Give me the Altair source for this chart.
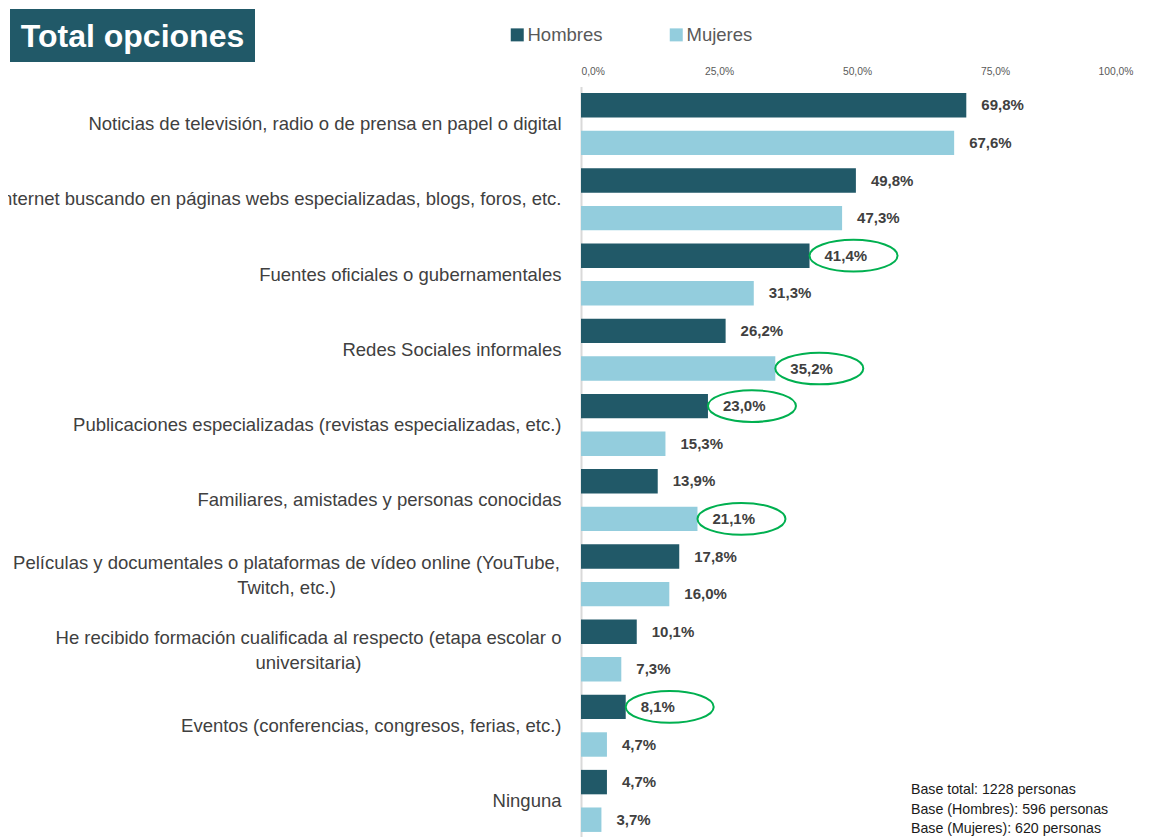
import altair as alt
import pandas as pd

categories = [
    "Noticias de televisión, radio o de prensa en papel o digital",
    "Internet buscando en páginas webs especializadas, blogs, foros, etc.",
    "Fuentes oficiales o gubernamentales",
    "Redes Sociales informales",
    "Publicaciones especializadas (revistas especializadas, etc.)",
    "Familiares, amistades y personas conocidas",
    "Películas y documentales o plataformas de vídeo online (YouTube,|Twitch, etc.)",
    "He recibido formación cualificada al respecto (etapa escolar o|universitaria)",
    "Eventos (conferencias, congresos, ferias, etc.)",
    "Ninguna",
]
series = ["Hombres", "Mujeres"]
hombres = [69.8, 49.8, 41.4, 26.2, 23.0, 13.9, 17.8, 10.1, 8.1, 4.7]
mujeres = [67.6, 47.3, 31.3, 35.2, 15.3, 21.1, 16.0, 7.3, 4.7, 3.7]
# highlighted (circled) values: (category index, series)
highlighted = [(2, "Hombres"), (3, "Mujeres"), (4, "Hombres"), (5, "Mujeres"), (8, "Hombres")]
x_ticks = [0, 25, 50, 75, 100]
title_text = "Total opciones"
footnote_lines = [
    "Base total: 1228 personas",
    "Base (Hombres): 596 personas",
    "Base (Mujeres): 620 personas",
]

rows = []
for i, c in enumerate(categories):
    for s, vals in zip(series, [hombres, mujeres]):
        rows.append({"cat": c, "sexo": s, "valor": vals[i], "hl": (i, s) in highlighted})
df = pd.DataFrame(rows)

FN = "Liberation Sans, Arial, sans-serif"
C_H = "#215968"
C_M = "#93cddd"

y_enc = alt.Y(
    "cat:N",
    sort=categories,
    scale=alt.Scale(paddingInner=0, paddingOuter=0),
    axis=alt.Axis(
        title=None,
        labelExpr="split(datum.label, '|')",
        labelFont=FN,
        labelFontSize=18.5,
        labelColor="#404040",
        labelLimit=1000,
        labelLineHeight=25.5,
        labelBaseline="middle",
        labelAlign={"condition": {"test": "indexof(datum.value, '|') >= 0", "value": "center"}, "value": "right"},
        labelOffset={"condition": {"test": "indexof(datum.value, '|') >= 0", "value": -12.75}, "value": 0},
        labelPadding={"condition": [
            {"test": "indexof(datum.value, 'Películas') >= 0", "value": 295},
            {"test": "indexof(datum.value, 'He recibido') >= 0", "value": 273},
        ], "value": 20},
        ticks=False,
        tickSize=0,
        domainColor="#d9d9d9",
        domainWidth=2,
        grid=False,
    ),
)
yoff_enc = alt.YOffset("sexo:N", sort=series, scale=alt.Scale(paddingInner=0.35, paddingOuter=0.175))
x_enc = alt.X(
    "valor:Q",
    scale=alt.Scale(domain=[0, 100], nice=False),
    axis=alt.Axis(
        title=None,
        orient="top",
        values=x_ticks,
        labelExpr="replace(format(datum.value, '.1f'), '.', ',') + '%'",
        labelFont=FN,
        labelFontSize=10.3,
        labelColor="#595959",
        labelPadding=10,
        ticks=False,
        domain=False,
        grid=False,
    ),
)

base = alt.Chart(df).encode(x=x_enc, y=y_enc, yOffset=yoff_enc)

bars = base.mark_bar().encode(
    color=alt.Color(
        "sexo:N",
        scale=alt.Scale(domain=series, range=[C_H, C_M]),
        legend=alt.Legend(
            title=None,
            orient="none",
            legendX=-73,
            legendY=-61,
            direction="horizontal",
            symbolType="square",
            symbolSize=169,
            symbolStrokeWidth=0,
            labelFont=FN,
            labelFontSize=18.5,
            labelColor="#595959",
            labelOffset=1,
            columnPadding=64,
        ),
    )
)

labels = base.mark_text(
    align="left", baseline="middle", dx=15, font=FN, fontSize=15, fontWeight="bold", color="#404040"
).transform_calculate(
    lbl="replace(format(datum.valor, '.1f'), '.', ',') + '%'"
).encode(text="lbl:N")

ellipse_path = "M -1 0 A 1 0.36 0 1 0 1 0 A 1 0.36 0 1 0 -1 0 Z"
circles = base.mark_point(
    shape=ellipse_path, size=7744, filled=False, stroke="#00b050", strokeWidth=2, opacity=1, xOffset=44
).transform_filter("datum.hl")

deco = pd.DataFrame({"t": [title_text]})
title_box = alt.Chart(deco).mark_rect(color=C_H).encode(
    x=alt.value(-571), x2=alt.value(-326), y=alt.value(-77.5), y2=alt.value(-24.5)
)
title_txt = alt.Chart(deco).mark_text(
    font=FN, fontSize=32, fontWeight="bold", color="white", align="center", baseline="middle"
).encode(x=alt.value(-448.5), y=alt.value(-50), text="t:N")

foot = alt.Chart(deco).mark_text(
    font=FN, fontSize=14.2, color="#1a1a1a", align="left", baseline="alphabetic", lineHeight=19.5
).encode(x=alt.value(330), y=alt.value(707.5), text=alt.value(footnote_lines))

chart = alt.layer(bars, labels, circles, title_box, title_txt, foot).properties(
    width=552,
    height=752,
    autosize=alt.AutoSizeParams(type="none"),
    padding={"left": 573, "top": 78.5, "right": 21, "bottom": 0},
).configure_view(stroke=None)

chart.save("out.html", embed_options={"renderer": "svg", "actions": False})
